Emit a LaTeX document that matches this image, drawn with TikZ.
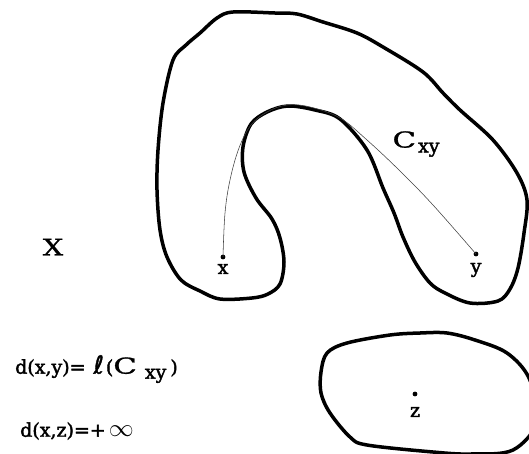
\documentclass[tikz,border=0pt]{standalone}
\usepackage{fontspec}
\setmainfont{DejaVu Serif}
\newfontfamily\lblfont{DejaVu Serif}[FakeBold=2]
\newfontfamily\capfont{DejaVu Serif}[FakeBold=1]
\newfontfamily\ellfont{DejaVu Sans}[FakeBold=1.5]
\newcommand{\wideC}{{\capfont\fontsize{22}{26}\selectfont\scalebox{1.4}[1]{C}}}
\begin{document}
\begin{tikzpicture}[x=1pt,y=-1pt,
  region/.style={line width=3.5pt,line join=round},
  pathline/.style={line width=0.55pt,draw=black!75},
  dotnode/.style={circle,fill=black,inner sep=0pt,minimum size=4.8pt},
  lbl/.style={font=\lblfont\fontsize{19}{23}\selectfont,inner sep=0pt}]
\useasboundingbox (0,0) rectangle (529,453);
\begin{scope}
\clip (0,0) rectangle (529,453);
% C-shaped region
\draw[region] plot[smooth cycle,tension=0.55] coordinates {
(233,12) (275,13) (297,14) (323,22) (357,33) (383,47) (423,72) (443,93) (460,110)
(493,140) (517,173) (527,200) (524,233) (518,268) (510,289) (498,301) (470,303)
(445,293) (430,283) (415,262) (403,237) (394,213) (383,188) (367,150) (340,119)
(315,110) (288,106) (267,112) (251,124) (243,147) (244,172) (256,198) (272,219)
(280,238) (284,262) (280,284) (268,294) (252,298) (220,299) (200,291) (181,280)
(167,257) (160,230) (157,190) (158,150) (163,103) (173,60) (186,45) (200,33) (217,18)};
% lower region
\draw[region] plot[smooth cycle,tension=0.55] coordinates {
(327,353) (347,343) (390,335) (420,333) (447,333) (475,340) (507,353) (529,378)
(538,420) (513,450) (470,454) (433,452) (367,445) (350,437) (330,413) (321,393) (321,372)};
\end{scope}
% points
\node[dotnode] (x) at (223,257) {};
\node[dotnode] (y) at (476,254) {};
\node[dotnode] (z) at (415,394) {};
% curve C_xy
\draw[pathline] plot[smooth,tension=0.6] coordinates {
(x.center) (225,213) (230,180) (239,148) (251,125) (267,112) (287,105) (310,107)
(340,118) (367,140) (400,171) (433,205) (y.center)};
% labels
\node[lbl] (xl) at (223,269) {x};
\node[lbl] (yl) at (476,270) {y};
\node[lbl] (zl) at (415,412) {z};
\node[lbl] (X) at (53,247) {\capfont\fontsize{23}{27}\selectfont\scalebox{1.25}[1]{X}};
\node[lbl] (cxy) at (416,144) {\wideC\hspace{2pt}\raisebox{-5pt}{xy}};
\node[lbl,anchor=west] (dxy) at (15,369) {d(x,y)=\hspace{8pt}{\ellfont\fontsize{25}{30}\selectfont ℓ}\hspace{2pt}(\wideC\hspace{8pt}\raisebox{-5pt}{xy}\hspace{4pt})};
\node[lbl,anchor=west] (dxz) at (20,431) {d(x,z)=+\hspace{3pt}{\fontsize{23}{26}\selectfont$\infty$}};
\end{tikzpicture}
\end{document}
